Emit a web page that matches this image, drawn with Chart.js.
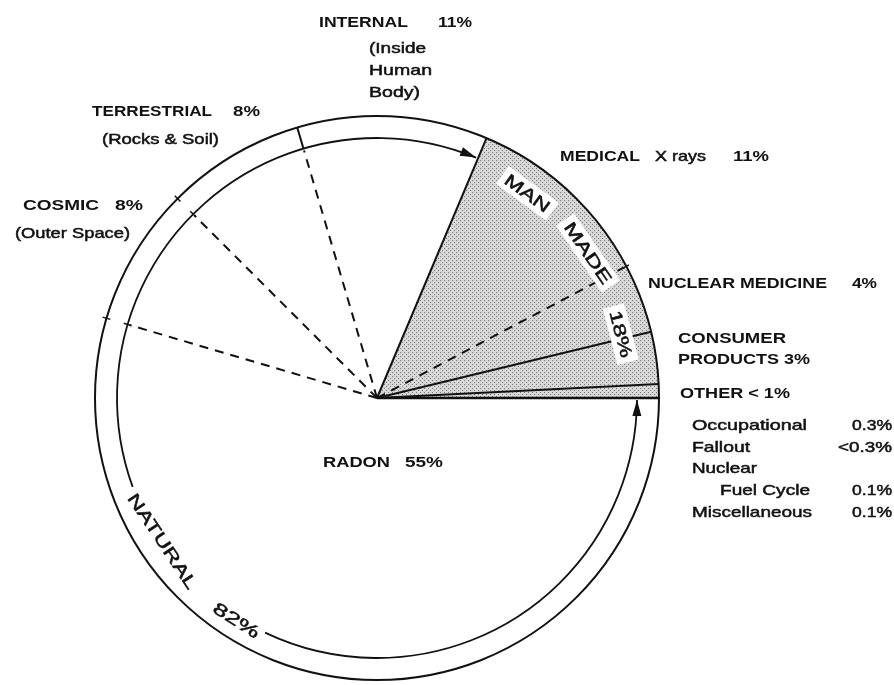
<!DOCTYPE html>
<html>
<head>
<meta charset="utf-8">
<title>Sources of radiation exposure</title>
<script src="https://cdn.jsdelivr.net/npm/chart.js@4.4.0/dist/chart.umd.min.js"></script>
<style>
    body { margin: 0; background: #fff; }
    #wrap { width: 894px; height: 685px; }
</style>
</head>
<body>
<div id="wrap"><canvas id="myChart"></canvas></div>
<script>
// sources, clockwise starting from 3 o'clock
var sources = ['RADON', 'COSMIC', 'TERRESTRIAL', 'INTERNAL', 'MEDICAL', 'NUCLEAR MEDICINE', 'CONSUMER PRODUCTS', 'OTHER'];
var percent = [55, 8, 8, 11, 11, 4, 3, 0.8];
var percentText = ['55%', '8%', '8%', '11%', '11%', '4%', '3%', '< 1%'];
var isNatural = [true, true, true, true, false, false, false, false];

// notes under the labels
var internalNote = ['(Inside', 'Human', 'Body)'];
var terrestrialNote = '(Rocks & Soil)';
var cosmicNote = '(Outer Space)';
var medicalNote = 'X rays';

// breakdown of "other"
var otherItems = ['Occupational', 'Fallout', 'Nuclear', 'Fuel Cycle', 'Miscellaneous'];
var otherValues = ['0.3%', '<0.3%', '', '0.1%', '0.1%'];

// group totals
var naturalText = ['NATURAL', '82%'];
var manMadeText = ['MAN', 'MADE', '18%'];

// dotted grey fill for the man made part
var tile = document.createElement('canvas');
tile.width = 4;
tile.height = 4;
var tctx = tile.getContext('2d');
tctx.fillStyle = '#d8d8d8';
tctx.fillRect(0, 0, 4, 4);
tctx.fillStyle = '#777777';
tctx.fillRect(0, 0, 1, 1);
tctx.fillRect(2, 2, 1, 1);
var stipple = tctx.createPattern(tile, 'repeat');

var colori = [];
for (var i = 0; i < isNatural.length; i++) {
    colori.push(isNatural[i] ? '#ffffff' : stipple);
}

var CAPS = 'bold 15px "Liberation Sans", Arial, sans-serif';
var SMALL = '15px "Liberation Sans", Arial, sans-serif';
var ARCFONT = '17px "Liberation Sans", Arial, sans-serif';

// text stretched to the width it has in the scan
function fitText(ctx, text, x, y, w, font, align) {
    ctx.save();
    ctx.font = font;
    var m = ctx.measureText(text).width;
    ctx.translate(x, y);
    ctx.scale(w / m, 1);
    ctx.textAlign = align || 'left';
    ctx.textBaseline = 'middle';
    ctx.fillStyle = '#111';
    ctx.fillText(text, 0, 1);
    if (font.indexOf('bold') < 0) {
        // scanned text is a bit heavier
        ctx.strokeStyle = '#111';
        ctx.lineWidth = 0.5;
        ctx.strokeText(text, 0, 1);
    }
    ctx.restore();
}

function ray(ctx, cx, cy, a, r0, r1, dashed, width) {
    ctx.save();
    ctx.beginPath();
    ctx.setLineDash(dashed ? [9, 7] : []);
    ctx.lineWidth = width || 2;
    ctx.moveTo(cx + r0 * Math.cos(a), cy + r0 * Math.sin(a));
    ctx.lineTo(cx + r1 * Math.cos(a), cy + r1 * Math.sin(a));
    ctx.stroke();
    ctx.restore();
}

// dir 1 = clockwise, -1 = anticlockwise
function arrowHead(ctx, cx, cy, r, a, dir) {
    var tx = cx + r * Math.cos(a), ty = cy + r * Math.sin(a);
    var dx = -Math.sin(a) * dir, dy = Math.cos(a) * dir;
    var nx = Math.cos(a), ny = Math.sin(a);
    ctx.beginPath();
    ctx.moveTo(tx, ty);
    ctx.lineTo(tx - 16 * dx + 4.5 * nx, ty - 16 * dy + 4.5 * ny);
    ctx.lineTo(tx - 16 * dx - 4.5 * nx, ty - 16 * dy - 4.5 * ny);
    ctx.closePath();
    ctx.fill();
}

// word written along the circle
function arcWord(ctx, cx, cy, r, deg, text, w, font, box, turn) {
    var a = deg * Math.PI / 180;
    ctx.save();
    ctx.translate(cx + r * Math.cos(a), cy + r * Math.sin(a));
    ctx.rotate(a + turn);
    if (box) {
        ctx.fillStyle = '#fff';
        ctx.fillRect(-w / 2 - 5, -11, w + 10, 22);
    }
    fitText(ctx, text, 0, 0, w, font, 'center');
    ctx.restore();
}

var rad = Math.PI / 180;

var decorazioni = {
    id: 'decorazioni',
    afterDatasetsDraw: function(chart) {
        var ctx = chart.ctx;
        var arcs = chart.getDatasetMeta(0).data;
        var cx = arcs[0].x, cy = arcs[0].y, R = arcs[0].outerRadius;
        var rIn = R * 0.922;

        ctx.save();
        ctx.strokeStyle = '#111';
        ctx.fillStyle = '#111';

        // outer circle
        ctx.beginPath();
        ctx.lineWidth = 2;
        ctx.arc(cx, cy, R, 0, Math.PI * 2);
        ctx.stroke();

        // slice edges
        for (var i = 0; i < arcs.length; i++) {
            var a = arcs[i].startAngle;
            var prevNatural = isNatural[(i + arcs.length - 1) % arcs.length];
            if (isNatural[i] && prevNatural) {
                ray(ctx, cx, cy, a, 0, rIn - 2, true, 2);
                if (i == 3) {
                    ray(ctx, cx, cy, a, rIn, R, false, 2);
                } else {
                    ray(ctx, cx, cy, a, rIn - 4, rIn + 4, false, 1.5);
                    ray(ctx, cx, cy, a, R - 4, R + 4, false, 1.5);
                }
            } else if (!isNatural[i] && !prevNatural && i == 5) {
                ray(ctx, cx, cy, a, 0, R - 3, true, 2);
                ray(ctx, cx, cy, a, R - 5, R + 3, false, 1.5);
            } else {
                ray(ctx, cx, cy, a, 0, R, false, i == 0 ? 2.6 : 2);
            }
        }

        // "natural" arc with arrows, broken for the text
        var a0 = arcs[0].startAngle + 0.008;
        var a1 = arcs[3].endAngle - 0.008;
        ctx.lineWidth = 1.8;
        ctx.beginPath();
        ctx.arc(cx, cy, rIn, a0, 115.5 * rad);
        ctx.stroke();
        ctx.beginPath();
        ctx.arc(cx, cy, rIn, 160 * rad, a1);
        ctx.stroke();
        arrowHead(ctx, cx, cy, rIn, a0, -1);
        arrowHead(ctx, cx, cy, rIn, a1, 1);

        arcWord(ctx, cx, cy, rIn - 2, 146.3, naturalText[0], 111, ARCFONT, false, -Math.PI / 2);
        arcWord(ctx, cx, cy, rIn + 3, 122.3, naturalText[1], 52, ARCFONT, false, -Math.PI / 2);

        // "man made" words on white strips
        arcWord(ctx, cx, cy, 254, -53.7, manMadeText[0], 52, ARCFONT, true, Math.PI / 2);
        arcWord(ctx, cx, cy, 256, -34.5, manMadeText[1], 71, ARCFONT, true, Math.PI / 2);
        arcWord(ctx, cx, cy, 252, -14.7, manMadeText[2], 48, ARCFONT, true, Math.PI / 2);

        // labels round the pie
        fitText(ctx, sources[3], 319, 22, 89, CAPS);
        fitText(ctx, percentText[3], 438, 22, 34, CAPS);
        fitText(ctx, internalNote[0], 369, 48, 57, SMALL);
        fitText(ctx, internalNote[1], 369, 70, 63, SMALL);
        fitText(ctx, internalNote[2], 369, 92, 51, SMALL);

        fitText(ctx, sources[2], 92, 111, 120, CAPS);
        fitText(ctx, percentText[2], 233, 111, 27, CAPS);
        fitText(ctx, terrestrialNote, 102, 139, 117, SMALL);

        fitText(ctx, sources[1], 23, 205, 76, CAPS);
        fitText(ctx, percentText[1], 115, 205, 28, CAPS);
        fitText(ctx, cosmicNote, 15, 233, 115, SMALL);

        fitText(ctx, sources[4], 560, 156, 80, CAPS);
        fitText(ctx, medicalNote, 655, 156, 51, SMALL);
        fitText(ctx, percentText[4], 733, 156, 36, CAPS);

        fitText(ctx, sources[5], 648, 283, 179, CAPS);
        fitText(ctx, percentText[5], 852, 283, 25, CAPS);

        var cp = sources[6].split(' ');
        fitText(ctx, cp[0], 678, 338, 108, CAPS);
        fitText(ctx, cp[1] + ' ' + percentText[6], 678, 359, 132, CAPS);

        fitText(ctx, sources[7] + ' ' + percentText[7], 680, 393, 110, CAPS);

        var rows = [425, 447, 468, 490, 512];
        var widths = [115, 58, 65, 90, 120];
        var valWidths = [40, 54, 0, 40, 40];
        for (var k = 0; k < otherItems.length; k++) {
            var x = otherItems[k] == 'Fuel Cycle' ? 720 : 692;
            fitText(ctx, otherItems[k], x, rows[k], widths[k], SMALL);
            if (otherValues[k]) {
                fitText(ctx, otherValues[k], 892, rows[k], valWidths[k], SMALL, 'right');
            }
        }

        fitText(ctx, sources[0], 323, 462, 67, CAPS);
        fitText(ctx, percentText[0], 405, 462, 38, CAPS);

        ctx.restore();
    }
};

var ctx = document.getElementById('myChart').getContext('2d');

var myChart = new Chart(ctx, {
    type: 'pie',
    data: {
        labels: sources,
        datasets: [{
            data: percent,
            backgroundColor: colori,
            borderWidth: 0,
            hoverOffset: 0
        }]
    },
    options: {
        responsive: true,
        maintainAspectRatio: false,
        animation: false,
        events: [],
        rotation: 90,
        layout: {
            padding: { left: 95, right: 235, top: 116, bottom: 5 }
        },
        plugins: {
            legend: { display: false },
            tooltip: { enabled: false }
        }
    },
    plugins: [decorazioni]
});
</script>
</body>
</html>
